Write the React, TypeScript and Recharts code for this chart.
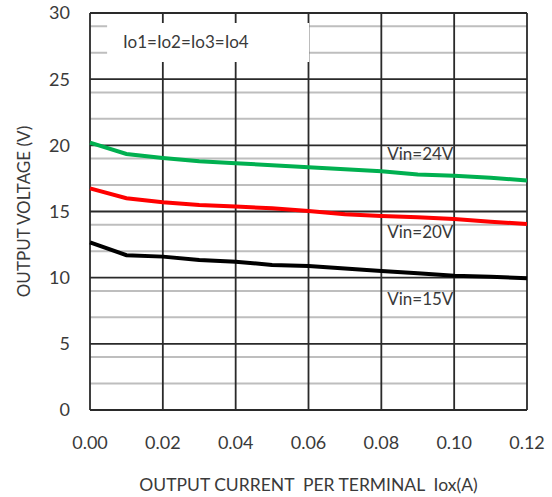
import React from 'react';
import { LineChart, Line, XAxis, YAxis, CartesianGrid, ReferenceArea, ReferenceDot, Label } from 'recharts';

// output current per terminal (A)
const CURRENT = [0, 0.01, 0.02, 0.03, 0.04, 0.05, 0.06, 0.07, 0.08, 0.09, 0.1, 0.11, 0.12];
// output voltage (V) per input voltage
const VIN24 = [20.2, 19.35, 19.05, 18.8, 18.65, 18.5, 18.35, 18.2, 18.05, 17.8, 17.7, 17.55, 17.35];
const VIN20 = [16.75, 16.0, 15.7, 15.5, 15.37, 15.24, 15.04, 14.8, 14.66, 14.56, 14.44, 14.23, 14.06];
const VIN15 = [12.67, 11.7, 11.59, 11.34, 11.21, 10.96, 10.88, 10.7, 10.5, 10.33, 10.15, 10.07, 9.95];

const X_TICKS = [0, 0.02, 0.04, 0.06, 0.08, 0.1, 0.12];
const Y_TICKS = [0, 5, 10, 15, 20, 25, 30];
const Y_MINOR = [1, 2, 3, 4, 6, 7, 8, 9, 11, 12, 13, 14, 16, 17, 18, 19, 21, 22, 23, 24, 26, 27, 28, 29];

const FONT = 'Lato, "Noto Sans", sans-serif';
const TXT = '#3a3a3a';

const data = CURRENT.map((c, i) => ({ c, v24: VIN24[i], v20: VIN20[i], v15: VIN15[i] }));

const tagStyle = { fontSize: 17, fill: TXT, fontFamily: FONT };
const NB = '\u00a0';

export default function App() {
  return (
    <div style={{ position: 'absolute', left: 0, top: 0, background: '#fff' }}>
      <LineChart width={552} height={497} data={data} margin={{ top: 13, right: 25, bottom: 0, left: 0 }}>
        <CartesianGrid horizontalValues={Y_MINOR} vertical={false} stroke="#bebebe" strokeWidth={2} />
        <CartesianGrid horizontalValues={Y_TICKS} verticalValues={X_TICKS} stroke="#2a2a2a" strokeWidth={1.8} />
        <XAxis
          dataKey="c"
          type="number"
          domain={[0, 0.12]}
          ticks={X_TICKS}
          tickFormatter={(v: number) => v.toFixed(2)}
          axisLine={false}
          tickLine={false}
          tickSize={0}
          tickMargin={26}
          height={87}
          tick={{ fontSize: 18, fill: TXT, fontFamily: FONT }}
        >
          <Label
            value={`OUTPUT${NB}CURRENT${NB}${NB}PER${NB}TERMINAL${NB}${NB}Iox(A)`}
            position="insideBottom"
            offset={6}
            style={{ ...tagStyle, fontSize: 17.5 }}
          />
        </XAxis>
        <YAxis
          type="number"
          domain={[0, 30]}
          ticks={Y_TICKS}
          axisLine={false}
          tickLine={false}
          tickSize={0}
          tickMargin={20}
          width={90}
          tick={{ fontSize: 18, fill: TXT, fontFamily: FONT }}
        >
          <Label value="OUTPUT VOLTAGE (V)" angle={-90} position="center" dx={-21} style={tagStyle} />
        </YAxis>
        <ReferenceArea x1={0.0047} x2={0.0602} y1={26.3} y2={29.25} fill="#fff" fillOpacity={1} stroke="none">
          <Label value="Io1=Io2=Io3=Io4" position="insideLeft" offset={16} style={tagStyle} />
        </ReferenceArea>
        <Line dataKey="v24" type="linear" stroke="#00b050" strokeWidth={4} dot={false} isAnimationActive={false} />
        <Line dataKey="v20" type="linear" stroke="#ff0000" strokeWidth={4} dot={false} isAnimationActive={false} />
        <Line dataKey="v15" type="linear" stroke="#000000" strokeWidth={4} dot={false} isAnimationActive={false} />
        <ReferenceDot x={0.0907} y={19.35} r={0} stroke="none" fill="none">
          <Label value="Vin=24V" position="center" style={tagStyle} />
        </ReferenceDot>
        <ReferenceDot x={0.0907} y={13.48} r={0} stroke="none" fill="none">
          <Label value="Vin=20V" position="center" style={tagStyle} />
        </ReferenceDot>
        <ReferenceDot x={0.0907} y={8.39} r={0} stroke="none" fill="none">
          <Label value="Vin=15V" position="center" style={tagStyle} />
        </ReferenceDot>
      </LineChart>
    </div>
  );
}
